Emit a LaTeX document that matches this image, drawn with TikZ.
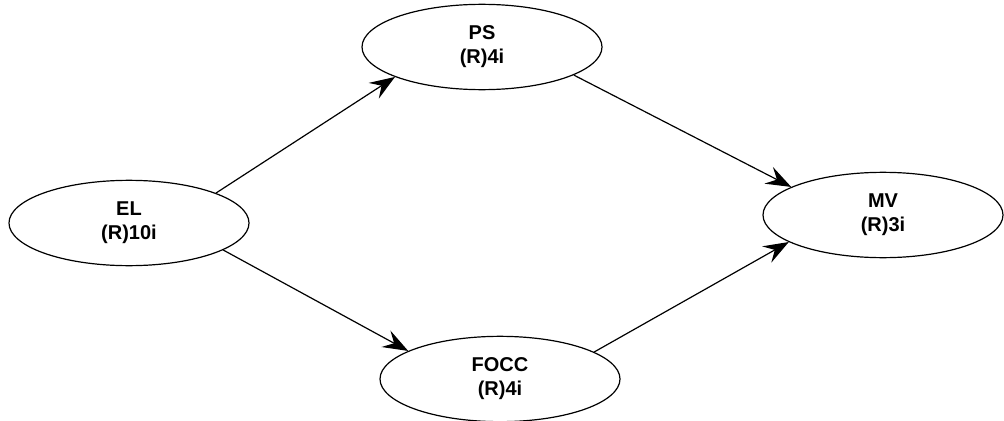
\documentclass[tikz,border=0pt]{standalone}
\usepackage{fontspec}
\setmainfont{Liberation Sans}
\usetikzlibrary{shapes.geometric,arrows.meta}

\begin{document}
\begin{tikzpicture}[x=0.75pt, y=-0.75pt,
    latent/.style={draw, ellipse, line width=0.9pt, minimum width=180pt, minimum height=64pt,
      inner sep=1pt, align=center, font=\fontsize{15}{18}\selectfont\bfseries},
    effect/.style={line width=0.9pt, -{Stealth[length=19pt, width=14pt, inset=7pt]}}]
  % canvas
  \useasboundingbox (0,0) rectangle (1004,421);

  % latent variables
  \node[latent] (el) at (129,223) {EL\\(R)10i};
  \node[latent] (ps) at (482,47) {PS\\(R)4i};
  \node[latent] (focc) at (500,379) {FOCC\\(R)4i};
  \node[latent] (mv) at (883,215) {MV\\(R)3i};

  % paths
  \draw[effect] (el.19) -- (ps.199);
  \draw[effect] (el.344) -- (focc.163);
  \draw[effect] (ps.343) -- (mv.163);
  \draw[effect] (focc.16) -- (mv.196);
\end{tikzpicture}
\end{document}
